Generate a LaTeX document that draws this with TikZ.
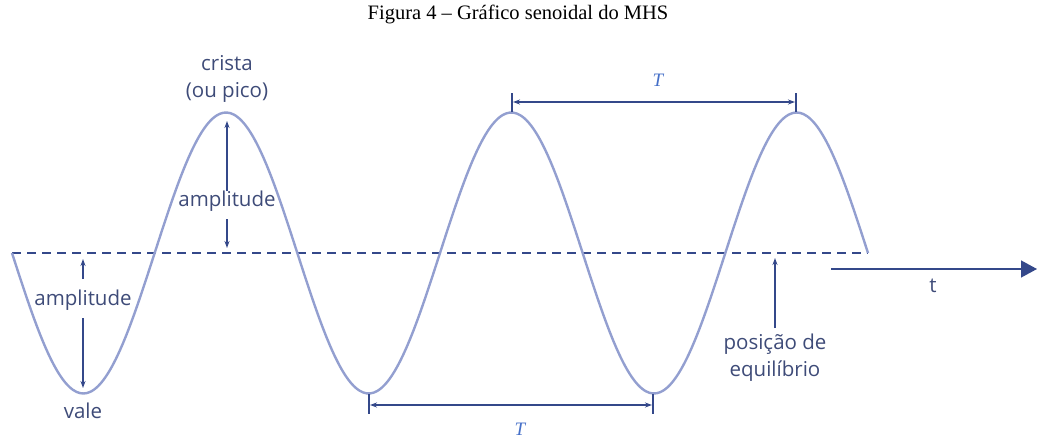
\documentclass[tikz,border=0pt]{standalone}
\usepackage{fontspec}
\setmainfont{Liberation Serif}
\newfontfamily\labfont{Open Sans}
\usetikzlibrary{arrows.meta}
\definecolor{curvec}{HTML}{939FD0}
\definecolor{navy}{HTML}{34488A}
\definecolor{labc}{HTML}{3E4B78}
\definecolor{tblue}{HTML}{4670C8}
\tikzset{
  lab/.style={font=\labfont\fontsize{20.5}{27}\selectfont, text=labc, inner sep=0pt},
  arr/.style={navy, line width=1.2pt, -{Stealth[length=7pt,width=5pt]}},
  darr/.style={navy, line width=1.2pt, {Stealth[length=7pt,width=5pt]}-{Stealth[length=7pt,width=5pt]}},
  tick/.style={navy, line width=1.2pt},
  tlab/.style={font=\fontsize{19}{21}\selectfont\itshape, text=tblue, inner sep=0pt},
}
\begin{document}
\begin{tikzpicture}[x=1pt,y=-1pt]
\useasboundingbox (0,0) rectangle (1037,439);
% title
\node[font=\fontsize{20.5}{24}\selectfont, inner sep=0pt] (title) at (518,14) {Figura 4 – Gráfico senoidal do MHS};
% equilibrium line
\coordinate (eqL) at (12,253);
\coordinate (eqR) at (868,253);
\draw[navy, line width=1.1pt, dash pattern=on 9pt off 6pt] (eqL) -- (eqR);
% sine curve
\draw[curvec, line width=2.4pt, line join=round] plot[domain=12:868, samples=240, smooth] (\x, {253 + 140.5*sin((\x-12)/285.33*360)});
% crest labels
\node[lab, align=center] (crista) at (227,79) {crista\\(ou pico)};
% upper amplitude
\node[lab] (amp1) at (227,201) {amplitude};
\coordinate (crestA) at (227,121);
\coordinate (eqA) at (227,248);
\coordinate (amp1t) at (227,191);
\coordinate (amp1b) at (227,219);
\draw[arr] (amp1t) -- (crestA);
\draw[arr] (amp1b) -- (eqA);
% left amplitude
\node[lab] (amp2) at (83,300) {amplitude};
\coordinate (eqB) at (83,259);
\coordinate (valeB) at (83,388);
\coordinate (amp2t) at (83,279);
\coordinate (amp2b) at (83,318);
\draw[arr] (amp2t) -- (eqB);
\draw[arr] (amp2b) -- (valeB);
\node[lab] (vale) at (83,411) {vale};
% upper T
\coordinate (tk1a) at (512,93);
\coordinate (tk1b) at (512,112);
\coordinate (tk2a) at (796,93);
\coordinate (tk2b) at (796,112);
\draw[tick] (tk1a) -- (tk1b);
\draw[tick] (tk2a) -- (tk2b);
\coordinate (ua) at (513,102);
\coordinate (ub) at (795,102);
\draw[darr] (ua) -- (ub);
\node[tlab] (T1) at (658,80) {T};
% lower T
\coordinate (tk3a) at (369,394);
\coordinate (tk3b) at (369,414);
\coordinate (tk4a) at (653,394);
\coordinate (tk4b) at (653,414);
\draw[tick] (tk3a) -- (tk3b);
\draw[tick] (tk4a) -- (tk4b);
\coordinate (la) at (370,405);
\coordinate (lb) at (652,405);
\draw[darr] (la) -- (lb);
\node[tlab] (T2) at (520,429) {T};
% time axis
\coordinate (tax0) at (831,269);
\coordinate (tax1) at (1037,269);
\draw[navy, line width=1.4pt, -{Triangle[length=16pt,width=17pt]}] (tax0) -- (tax1);
\node[lab] (tl) at (933,286) {t};
% equilibrium label
\node[lab, align=center] (eqlab) at (775,358) {posição de\\equilíbrio};
\coordinate (eqtip) at (775,258);
\coordinate (eqtail) at (775,328);
\draw[arr] (eqtail) -- (eqtip);
\end{tikzpicture}
\end{document}
